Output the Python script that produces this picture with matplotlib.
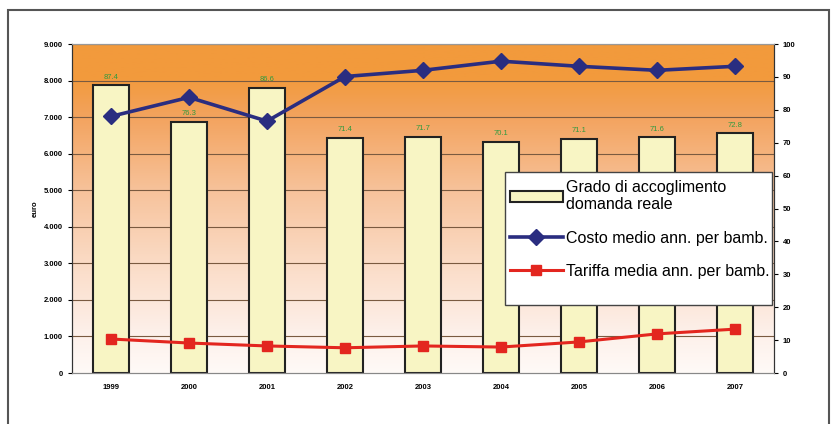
import numpy as np
import matplotlib
matplotlib.use("Agg")
import matplotlib.pyplot as plt
from matplotlib.colors import LinearSegmentedColormap
from matplotlib.patches import Rectangle

# dati
anni = ["1999", "2000", "2001", "2002", "2003", "2004", "2005", "2006", "2007"]
grado_accoglimento = [87.4, 76.3, 86.6, 71.4, 71.7, 70.1, 71.1, 71.6, 72.8]
costo_medio = [7020, 7540, 6890, 8110, 8280, 8530, 8390, 8280, 8390]
tariffa_media = [930, 820, 740, 690, 740, 710, 850, 1070, 1200]
euro_ticks = list(range(0, 10000, 1000))
perc_ticks = list(range(0, 110, 10))

plt.rcParams['font.family'] = ['Liberation Sans', 'DejaVu Sans']

fig = plt.figure(figsize=(8.32, 4.24), dpi=100)
fig.patch.set_facecolor("white")
# cornice esterna
fig.patches.append(Rectangle((8 / 832, -0.05), (821 / 832), 1.05 - 10 / 424,
                             transform=fig.transFigure, fill=False,
                             edgecolor="#555555", linewidth=1.5))

ax = fig.add_axes([72 / 832, 51 / 424, 702 / 832, 329 / 424])
ax_e = ax.twinx()

# sfondo sfumato arancione -> bianco
cmap = LinearSegmentedColormap.from_list("sfondo", [
    (0.0, "#fffaf7"), (0.12, "#fdf0ea"), (0.3, "#fbdfcc"),
    (0.55, "#f7c39c"), (0.78, "#f3a35e"), (0.9, "#f29a3c"), (1.0, "#f29a3c")])
grad = np.linspace(0, 1, 256).reshape(-1, 1)
ax.imshow(grad, aspect="auto", cmap=cmap, origin="lower",
          extent=[0, 1, 0, 1], transform=ax.transAxes, zorder=0)

x = np.arange(len(anni))
ax.set_xlim(-0.5, len(anni) - 0.5)
ax.set_ylim(0, 100)
ax_e.set_ylim(0, 9000)

# griglia sui valori in euro (dietro le barre)
for v in euro_ticks[1:]:
    ax.axhline(v * 100 / 9000, color="#7a5a40", linewidth=0.8, zorder=1)

barre = ax.bar(x, grado_accoglimento, width=0.46, color="#f8f5c4",
               edgecolor="#222222", linewidth=1.5, zorder=2,
               label="Grado di accoglimento\ndomanda reale")
for xi, v in zip(x, grado_accoglimento):
    ax.text(xi, v + 1.5, f"{v:.1f}", ha="center", va="bottom",
            fontsize=5.5, color="#2f9a3f", zorder=3)

ax.yaxis.tick_right()
ax.yaxis.set_label_position("right")
ax.set_yticks(perc_ticks)
ax.set_yticklabels([str(v) for v in perc_ticks], fontsize=5.5, fontweight="bold")
ax.set_xticks(x)
ax.set_xticklabels(anni, fontsize=5.5, fontweight="bold")
ax.tick_params(axis="x", length=0, pad=8)
ax.tick_params(axis="y", length=3, width=0.8)

ax_e.yaxis.tick_left()
ax_e.yaxis.set_label_position("left")
ax_e.set_yticks(euro_ticks)
ax_e.set_yticklabels([f"{v:,}".replace(",", ".") for v in euro_ticks],
                     fontsize=5.5, fontweight="bold")
ax_e.tick_params(axis="y", length=3, width=0.8)
ax_e.set_ylabel("euro", fontsize=5.5, fontweight="bold", labelpad=4)
ax_e.patch.set_visible(False)

l1, = ax_e.plot(x, costo_medio, color="#2a2d80", linewidth=2.6, marker="D",
                markersize=8, label="Costo medio ann. per bamb.")
l2, = ax_e.plot(x, tariffa_media, color="#e3261f", linewidth=2.2, marker="s",
                markersize=6.5, label="Tariffa media ann. per bamb.")

for a in (ax, ax_e):
    a.spines["top"].set_color("#999999")
    a.spines["bottom"].set_color("#888888")
    a.spines["left"].set_color("#333333")
    a.spines["right"].set_color("#333333")

# riquadro della legenda (in pixel dell'area del grafico)
box = Rectangle((433 / 702, 1 - 261 / 329), 267 / 702, 133 / 329,
                transform=ax_e.transAxes, facecolor="white",
                edgecolor="#444444", linewidth=1.0, zorder=5)
ax_e.add_patch(box)

leg = ax_e.legend([barre, l1, l2],
                  ["Grado di accoglimento\ndomanda reale",
                   "Costo medio ann. per bamb.",
                   "Tariffa media ann. per bamb."],
                  loc="upper left", bbox_to_anchor=(433 / 702, 1 - 131 / 329),
                  fontsize=11.5, frameon=False, borderpad=0.3,
                  labelspacing=1.15, handlelength=3.3, handletextpad=0.2,
                  borderaxespad=0)
leg.set_zorder(6)

fig.savefig("out.png", dpi=100)
